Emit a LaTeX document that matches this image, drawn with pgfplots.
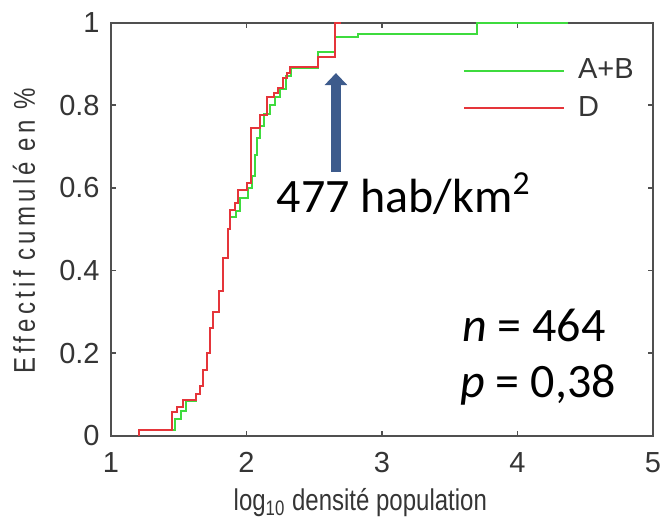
\documentclass[border=0pt]{standalone}
\usepackage{pgfplots}
\pgfplotsset{compat=1.18}
\usepackage{fontspec}
\usetikzlibrary{arrows.meta}
\setmainfont{Liberation Sans}
\newfontfamily\tfont{Liberation Sans}
\newfontfamily\mfont[FakeStretch=0.8]{Liberation Sans}
\newfontfamily\mfontls[FakeStretch=0.8,LetterSpace=14]{Liberation Sans}
\newfontfamily\calfont{Carlito}
\definecolor{axgray}{HTML}{505050}
\definecolor{labgray}{HTML}{353535}
\definecolor{cgreen}{HTML}{3EDB3E}
\definecolor{cred}{HTML}{E5353A}
\definecolor{arrowblue}{HTML}{3D5B8C}
\newcommand\mfs{\tfont\fontsize{14.5}{17}\selectfont}

\pgfplotstableread{
x y
1.21 0.000
1.21 0.014
1.47 0.040
1.52 0.060
1.55 0.085
1.63 0.100
1.66 0.120
1.68 0.160
1.71 0.200
1.73 0.260
1.75 0.300
1.80 0.350
1.83 0.430
1.86 0.500
1.88 0.530
1.92 0.545
1.95 0.575
2.01 0.600
2.04 0.630
2.06 0.680
2.08 0.720
2.10 0.750
2.13 0.780
2.17 0.800
2.21 0.820
2.25 0.840
2.29 0.870
2.33 0.890
2.53 0.930
2.65 0.965
2.82 0.973
3.70 1.000
4.37 1.000
}\greendata

\pgfplotstableread{
x y
1.21 0.000
1.21 0.014
1.45 0.058
1.49 0.070
1.53 0.087
1.63 0.100
1.66 0.120
1.68 0.160
1.71 0.200
1.73 0.260
1.75 0.300
1.80 0.350
1.83 0.430
1.86 0.500
1.88 0.547
1.915 0.563
1.94 0.595
2.00 0.612
2.03 0.745
2.10 0.777
2.15 0.820
2.20 0.830
2.23 0.842
2.27 0.866
2.30 0.878
2.32 0.893
2.53 0.917
2.65 1.000
2.70 1.000
}\reddata

\begin{document}
\begin{tikzpicture}
\begin{axis}[
  scale only axis, width=271pt, height=206.5pt,
  xmin=1, xmax=5, ymin=0, ymax=1,
  xtick={1,2,3,4,5}, xticklabels={1,2,3,4,5},
  ytick={0,0.2,0.4,0.6,0.8,1}, yticklabels={0,0.2,0.4,0.6,0.8,1},
  tick align=inside, major tick length=2.5pt,
  axis line style={axgray, line width=1pt},
  tick style={axgray, line width=0.8pt},
  ticklabel style={font=\mfs, text=labgray, inner sep=0pt},
  yticklabel style={anchor=east, xshift=-5.5pt},
  xticklabel style={anchor=north, yshift=-8pt},
  clip=false,
  legend cell align=left,
  legend image code/.code={\draw[#1] (0pt,0pt) -- (50pt,0pt);},
  legend style={draw=none, fill=none, inner sep=0pt, outer sep=0pt,
    at={(axis cs:3.598,0.912)}, anchor=north west,
    font=\mfs, text=labgray, row sep=7.5pt,
    nodes={inner sep=0pt},
    /tikz/every odd column/.append style={column sep=6.5pt}},
]
\addplot[cgreen, line width=1pt, const plot mark left] table[x=x,y=y] {\greendata};
\addlegendentry{A+B}
\addplot[cred, line width=1pt, const plot mark left] table[x=x,y=y] {\reddata};
\addlegendentry{D}

\draw[-{Triangle[width=11pt,length=6pt]}, line width=5.2pt, arrowblue]
  (axis cs:2.66,0.639) -- (axis cs:2.66,0.878);
\node[anchor=base west, inner sep=0pt, font=\calfont\fontsize{24}{28}\selectfont]
  at (axis cs:2.22,0.54) {477 hab/km\textsuperscript{2}};
\node[anchor=base west, inner sep=0pt, font=\calfont\fontsize{24}{28}\selectfont]
  at (axis cs:3.59,0.227) {\textit{n} = 464};
\node[anchor=base west, inner sep=0pt, font=\calfont\fontsize{24}{28}\selectfont]
  at (axis cs:3.576,0.092) {\textit{p} = 0,38};

\node[anchor=base, inner sep=0pt, font=\mfont\fontsize{15}{18}\selectfont, text=labgray]
  at ([yshift=-37.5pt]axis cs:2.84,0) {log\textsubscript{10} densité population};
\node[rotate=90, anchor=base, inner sep=0pt, font=\mfontls\fontsize{15}{18}\selectfont, text=labgray]
  at ([xshift=-38pt]axis cs:1,0.496) {Effectif cumulé en \%};
\end{axis}
\pgfresetboundingbox
\path ([xshift=-55.5pt,yshift=-44pt]current axis.south west) rectangle ([xshift=3.5pt,yshift=11.35pt]current axis.north east);
\end{tikzpicture}
\end{document}
